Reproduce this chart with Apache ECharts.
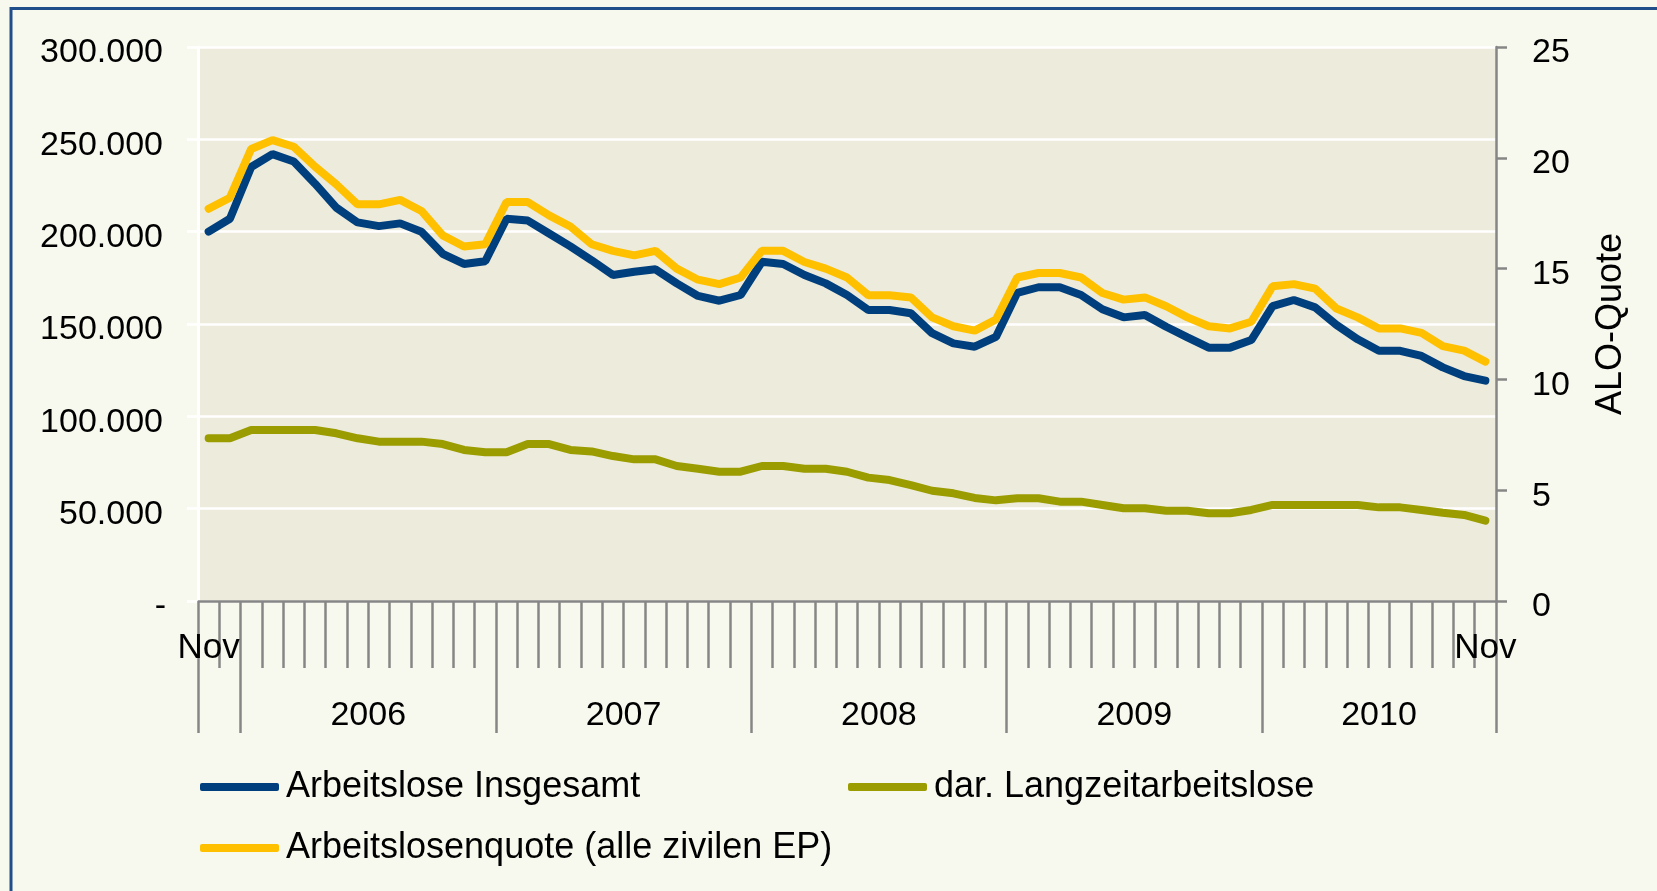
<!DOCTYPE html>
<html>
<head>
<meta charset="utf-8">
<script src="https://cdn.jsdelivr.net/npm/echarts@6/dist/echarts.min.js"></script>
<style>
  html, body { margin: 0; padding: 0; background: #F8F9EE; }
  #main { width: 1657px; height: 891px; }
</style>
</head>
<body>
<div id="main"></div>
<script>
// Nov 2005 .. Nov 2010, monthly
var monate = ['Nov','Dez',
  'Jan','Feb','Mär','Apr','Mai','Jun','Jul','Aug','Sep','Okt','Nov','Dez',
  'Jan','Feb','Mär','Apr','Mai','Jun','Jul','Aug','Sep','Okt','Nov','Dez',
  'Jan','Feb','Mär','Apr','Mai','Jun','Jul','Aug','Sep','Okt','Nov','Dez',
  'Jan','Feb','Mär','Apr','Mai','Jun','Jul','Aug','Sep','Okt','Nov','Dez',
  'Jan','Feb','Mär','Apr','Mai','Jun','Jul','Aug','Sep','Okt','Nov']
var jahre = ['2006','2007','2008','2009','2010']

var insgesamt = [200000,207000,235000,242000,238000,226000,213000,205000,203000,204500,200000,188000,182500,184000,
  207000,206000,199000,192000,184500,176500,178300,179600,172000,165200,162600,165700,
  183700,182500,176500,172000,165700,157600,157600,155800,145000,139500,137700,143000,
  166900,169900,169900,165700,158000,153600,154900,148500,142800,137200,137200,141300,
  159700,163000,159000,149500,141700,135500,135500,132700,126500,121800,119300]

var langzeit = [88100,88100,92600,92600,92600,92600,90800,88100,86300,86300,86300,85000,81800,80500,
  80500,85000,85000,81800,81000,78500,76700,76700,73100,71600,70000,70000,
  73100,73100,71600,71600,70000,66800,65500,62800,59700,58300,55800,54500,
  55600,55600,53800,53800,52000,50200,50200,48900,48900,47500,47500,49300,
  52000,52000,52000,52000,52000,50700,50700,49300,47800,46600,43500]

var quote = [17.7,18.2,20.4,20.8,20.5,19.6,18.8,17.9,17.9,18.1,17.6,16.5,16.0,16.1,
  18.0,18.0,17.4,16.9,16.1,15.8,15.6,15.8,15.0,14.5,14.3,14.6,
  15.8,15.8,15.3,15.0,14.6,13.8,13.8,13.7,12.8,12.4,12.2,12.7,
  14.6,14.8,14.8,14.6,13.9,13.6,13.7,13.3,12.8,12.4,12.3,12.6,
  14.2,14.3,14.1,13.2,12.8,12.3,12.3,12.1,11.5,11.3,10.8]

var namen = ['Arbeitslose Insgesamt', 'dar. Langzeitarbeitslose', 'Arbeitslosenquote (alle zivilen EP)']
var farben = ['#003F7D', '#9A9C00', '#FFC000']

// year axis: half-month slots so year labels can sit in the middle of each year span
var janIdx = []
monate.forEach(function (m, i) { if (m === 'Jan') janIdx.push(i) })
var grenzen = [0].concat(janIdx, [monate.length]).map(function (g) { return g * 2 })
var halb = []
for (var i = 0; i <= monate.length * 2; i++) halb.push('')
janIdx.forEach(function (s, k) {
  var e = k + 1 < janIdx.length ? janIdx[k + 1] : monate.length
  halb[s + e] = jahre[k]
})

var fam = 'Liberation Sans, Arial, sans-serif'
var schrift = { fontFamily: fam, fontSize: 34, color: '#000' }
var grau = '#868686'

// labels sit a few px below their gridline, like in Excel
var tiefer = {
  n: { fontFamily: fam, fontSize: 34, color: '#000', padding: [12, 3, 0, 0] },
  d: { fontFamily: fam, fontSize: 34, color: '#000', padding: [12, 0, 0, 0] },
  r: { fontFamily: fam, fontSize: 34, color: '#000', padding: [12, 0, 0, 0] }
}

function tausend(v) {
  if (v === 0) return '{d|-}'
  return '{n|' + String(v).replace(/\B(?=(\d{3})+(?!\d))/g, '.') + '}'
}

var myChart = echarts.init(document.getElementById('main'))
var option = {
  backgroundColor: '#F8F9EE',
  animation: false,
  textStyle: { fontFamily: fam },
  graphic: [{
    type: 'rect',
    shape: { x: 11, y: 8.5, width: 1700, height: 1000 },
    style: { fill: null, stroke: '#1F4E8A', lineWidth: 3 },
    silent: true
  }],
  grid: {
    left: 198, right: 161, top: 47, bottom: 290,
    show: true, backgroundColor: '#EDEBDC', borderWidth: 0
  },
  legend: [
    { data: [namen[0]], left: 200, top: 769 },
    { data: [namen[1]], left: 848, top: 769 },
    { data: [namen[2]], left: 200, top: 830 }
  ].map(function (l) {
    l.icon = 'roundRect'
    l.itemWidth = 79
    l.itemHeight = 8
    l.itemGap = 0
    l.padding = 0
    l.textStyle = { fontFamily: fam, fontSize: 36, color: '#000', padding: [0, 0, 0, 2] }
    return l
  }),
  xAxis: [{
    type: 'category',
    data: monate,
    boundaryGap: true,
    axisLine: { lineStyle: { color: grau, width: 2.5 } },
    axisTick: { show: true, interval: 0, length: 67, lineStyle: { color: grau, width: 2.5 } },
    axisLabel: Object.assign({
      margin: 30,
      interval: 0,
      formatter: function (v, i) { return (i === 0 || i === monate.length - 1) ? v : '' }
    }, schrift, { fontSize: 35 })
  }, {
    type: 'category',
    data: halb,
    boundaryGap: false,
    position: 'bottom',
    axisLine: { show: false },
    axisTick: {
      show: true,
      length: 132,
      interval: function (i) { return grenzen.indexOf(i) >= 0 },
      lineStyle: { color: grau, width: 2.5 }
    },
    axisLabel: Object.assign({
      margin: 98,
      interval: function (i, v) { return v !== '' }
    }, schrift)
  }],
  yAxis: [{
    type: 'value',
    min: 0, max: 300000, interval: 50000,
    axisLine: { show: true, lineStyle: { color: '#FFFFFF', width: 3 } },
    axisTick: { show: true, length: 11, lineStyle: { color: '#FFFFFF', width: 2.5 } },
    splitLine: { lineStyle: { color: '#FFFFFF', width: 2.5 } },
    axisLabel: Object.assign({ margin: 32, formatter: tausend, rich: tiefer }, schrift)
  }, {
    type: 'value',
    min: 0, max: 25, interval: 5,
    position: 'right',
    name: 'ALO-Quote',
    nameLocation: 'middle',
    nameRotate: 90,
    nameGap: 97,
    nameTextStyle: Object.assign({}, schrift, { fontSize: 36 }),
    axisLine: { show: true, lineStyle: { color: grau, width: 2.5 } },
    axisTick: { show: true, length: 11, lineStyle: { color: grau, width: 2.5 } },
    splitLine: { show: false },
    axisLabel: Object.assign({
      margin: 36,
      formatter: function (v) { return '{r|' + v + '}' },
      rich: tiefer
    }, schrift)
  }],
  series: [{
    name: namen[0],
    type: 'line',
    data: insgesamt,
    yAxisIndex: 0,
    symbol: 'none',
    lineStyle: { width: 8, color: farben[0], cap: 'round' },
    itemStyle: { color: farben[0] }
  }, {
    name: namen[1],
    type: 'line',
    data: langzeit,
    yAxisIndex: 0,
    symbol: 'none',
    lineStyle: { width: 8, color: farben[1], cap: 'round' },
    itemStyle: { color: farben[1] }
  }, {
    name: namen[2],
    type: 'line',
    data: quote,
    yAxisIndex: 1,
    symbol: 'none',
    lineStyle: { width: 8, color: farben[2], cap: 'round' },
    itemStyle: { color: farben[2] }
  }]
}
myChart.setOption(option)
</script>
</body>
</html>
